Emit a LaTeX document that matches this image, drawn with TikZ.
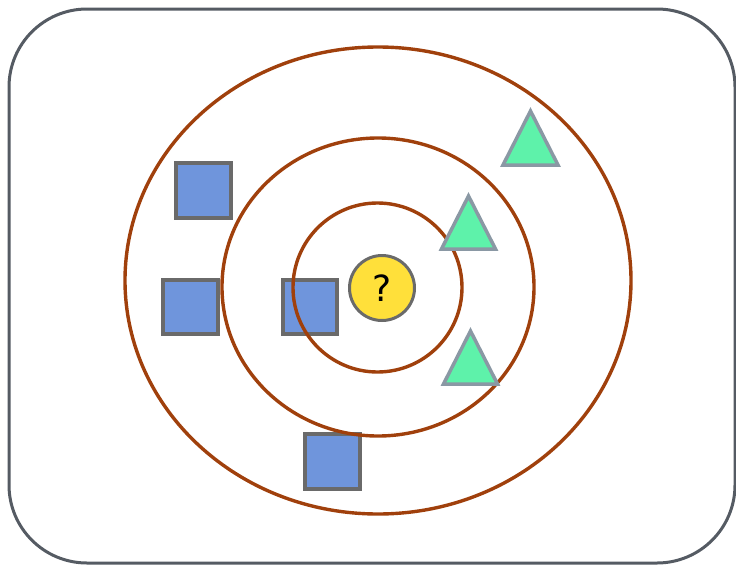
\documentclass[tikz,border=0pt]{standalone}
\usepackage{fontspec}
\setmainfont{DejaVu Sans}
\definecolor{framegray}{HTML}{555B63}
\definecolor{ringbrown}{HTML}{A0400C}
\definecolor{sqblue}{HTML}{6F95DC}
\definecolor{sqedge}{HTML}{6A6A6A}
\definecolor{trigreen}{HTML}{5EF2AA}
\definecolor{triedge}{HTML}{8A98A4}
\definecolor{qyellow}{HTML}{FFE03A}
\tikzset{
  frame/.style={draw=framegray, line width=3pt, rounded corners=78pt},
  ring/.style={draw=ringbrown, line width=3.4pt},
  sq/.style={draw=sqedge, fill=sqblue, line width=4pt},
  tri/.style={draw=triedge, fill=trigreen, line width=3.5pt, line join=miter},
  query/.style={circle, draw=sqedge, fill=qyellow, line width=3pt, minimum size=65pt, inner sep=0pt, font=\fontsize{36}{36}\selectfont}
}
\begin{document}
\begin{tikzpicture}[x=1pt,y=-1pt]
\useasboundingbox (0,0) rectangle (736,565);
\draw[frame] (9,9) rectangle (735,563);
% squares
\draw[sq] (176,163) rectangle (231,218);
\draw[sq] (163,280) rectangle (218,334);
\draw[sq] (283,280) rectangle (337,334);
\draw[sq] (305,434) rectangle (360,489);
% rings
\draw[ring] (378,280.5) ellipse [x radius=253, y radius=233.5];
\draw[ring] (378,287) ellipse [x radius=156, y radius=149];
\draw[ring] (377.5,287.5) ellipse [x radius=84.5, y radius=84.5];
% triangles
\draw[tri] (530.5,111) -- (558,165) -- (503,165) -- cycle;
\draw[tri] (468.5,196) -- (495.5,249) -- (441.5,249) -- cycle;
\draw[tri] (470.5,331) -- (497.5,384) -- (443.5,384) -- cycle;
% query point
\node[query] (q) at (382,288) {?};
\end{tikzpicture}
\end{document}
